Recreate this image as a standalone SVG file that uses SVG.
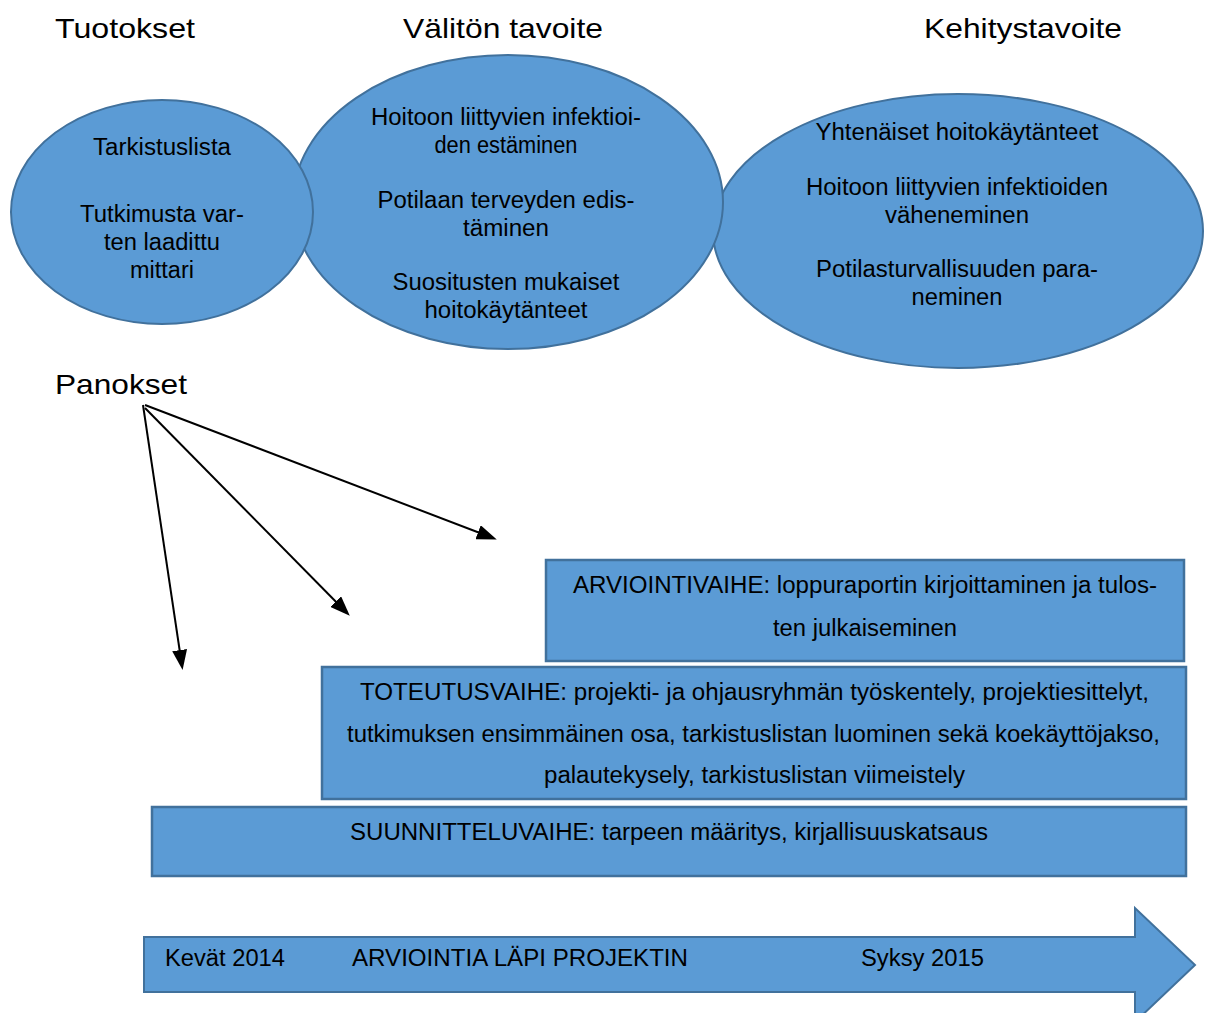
<svg xmlns="http://www.w3.org/2000/svg" width="1205" height="1013" viewBox="0 0 1205 1013">
<defs>
<style>
.shape{fill:#5B9BD5;stroke:#41719C;stroke-width:2}
.box{fill:#5B9BD5;stroke:#41719C;stroke-width:2.5}
.t{font-family:"Liberation Sans",Arial,sans-serif;fill:#000}
.title{font-size:28px}
.el{font-size:23px;text-anchor:middle}
.bx{font-size:23px}
.conn{stroke:#000;stroke-width:2;fill:none;marker-end:url(#ah)}
</style>
<marker id="ah" viewBox="0 0 10 10" refX="8" refY="5" markerWidth="20" markerHeight="15" markerUnits="userSpaceOnUse" orient="auto" preserveAspectRatio="none">
<path d="M0,0 L10,5 L0,10 z" fill="#000"/>
</marker>
</defs>
<rect width="1205" height="1013" fill="#fff"/>

<g id="title-tuotokset"><text class="t title" x="55" y="38" textLength="140" lengthAdjust="spacingAndGlyphs">Tuotokset</text></g>
<g id="title-valiton"><text class="t title" x="403" y="38" textLength="200" lengthAdjust="spacingAndGlyphs">Välitön tavoite</text></g>
<g id="title-kehitys"><text class="t title" x="924" y="38" textLength="198" lengthAdjust="spacingAndGlyphs">Kehitystavoite</text></g>

<g id="node-kehitystavoite">
<ellipse class="shape" cx="958" cy="231" rx="245" ry="137"/>
<text class="t el" x="957" y="140" textLength="283" lengthAdjust="spacingAndGlyphs">Yhtenäiset hoitokäytänteet</text>
<text class="t el" x="957" y="195" textLength="302" lengthAdjust="spacingAndGlyphs">Hoitoon liittyvien infektioiden</text>
<text class="t el" x="957" y="223" textLength="144" lengthAdjust="spacingAndGlyphs">väheneminen</text>
<text class="t el" x="957" y="277" textLength="282" lengthAdjust="spacingAndGlyphs">Potilasturvallisuuden para-</text>
<text class="t el" x="957" y="305" textLength="91" lengthAdjust="spacingAndGlyphs">neminen</text>
</g>

<g id="node-valiton">
<ellipse class="shape" cx="508" cy="202" rx="215" ry="147"/>
<text class="t el" x="506" y="125" textLength="270" lengthAdjust="spacingAndGlyphs">Hoitoon liittyvien infektioi-</text>
<text class="t el" x="506" y="153" textLength="143" lengthAdjust="spacingAndGlyphs">den estäminen</text>
<text class="t el" x="506" y="208" textLength="257" lengthAdjust="spacingAndGlyphs">Potilaan terveyden edis-</text>
<text class="t el" x="506" y="236" textLength="86" lengthAdjust="spacingAndGlyphs">täminen</text>
<text class="t el" x="506" y="290" textLength="227" lengthAdjust="spacingAndGlyphs">Suositusten mukaiset</text>
<text class="t el" x="506" y="318" textLength="163" lengthAdjust="spacingAndGlyphs">hoitokäytänteet</text>
</g>

<g id="node-tuotokset">
<ellipse class="shape" cx="162" cy="212" rx="151" ry="112"/>
<text class="t el" x="162" y="155" textLength="138" lengthAdjust="spacingAndGlyphs">Tarkistuslista</text>
<text class="t el" x="162" y="222" textLength="164" lengthAdjust="spacingAndGlyphs">Tutkimusta var-</text>
<text class="t el" x="162" y="250" textLength="116" lengthAdjust="spacingAndGlyphs">ten laadittu</text>
<text class="t el" x="162" y="278" textLength="64" lengthAdjust="spacingAndGlyphs">mittari</text>
</g>

<g id="title-panokset"><text class="t title" x="55" y="394" textLength="132" lengthAdjust="spacingAndGlyphs">Panokset</text></g>

<g id="node-arviointivaihe">
<rect class="box" x="546" y="560" width="638" height="101"/>
<text class="t bx" x="573" y="593" textLength="584" lengthAdjust="spacingAndGlyphs">ARVIOINTIVAIHE: loppuraportin kirjoittaminen ja tulos-</text>
<text class="t bx" x="773" y="636" textLength="184" lengthAdjust="spacingAndGlyphs">ten julkaiseminen</text>
</g>

<g id="node-toteutusvaihe">
<rect class="box" x="322" y="667" width="864" height="132"/>
<text class="t bx" x="360" y="700" textLength="789" lengthAdjust="spacingAndGlyphs">TOTEUTUSVAIHE: projekti- ja ohjausryhmän työskentely, projektiesittelyt,</text>
<text class="t bx" x="347" y="742" textLength="813" lengthAdjust="spacingAndGlyphs">tutkimuksen ensimmäinen osa, tarkistuslistan luominen sekä koekäyttöjakso,</text>
<text class="t bx" x="544" y="783" textLength="421" lengthAdjust="spacingAndGlyphs">palautekysely, tarkistuslistan viimeistely</text>
</g>

<g id="node-suunnitteluvaihe">
<rect class="box" x="152" y="807" width="1034" height="69"/>
<text class="t bx" x="350" y="840" textLength="638" lengthAdjust="spacingAndGlyphs">SUUNNITTELUVAIHE: tarpeen määritys, kirjallisuuskatsaus</text>
</g>

<g id="node-aikajana">
<polygon class="shape" points="144,937 1135,937 1135,908 1195,965 1135,1022 1135,992 144,992"/>
<text class="t bx" x="165" y="966" textLength="120" lengthAdjust="spacingAndGlyphs">Kevät 2014</text>
<text class="t bx" x="352" y="966" textLength="336" lengthAdjust="spacingAndGlyphs">ARVIOINTIA LÄPI PROJEKTIN</text>
<text class="t bx" x="861" y="966" textLength="123" lengthAdjust="spacingAndGlyphs">Syksy 2015</text>
</g>

<g id="connectors">
<line class="conn" x1="143" y1="405" x2="182" y2="666"/>
<line class="conn" x1="145" y1="408" x2="347" y2="613"/>
<line class="conn" x1="145" y1="405" x2="493" y2="538"/>
</g>
</svg>
